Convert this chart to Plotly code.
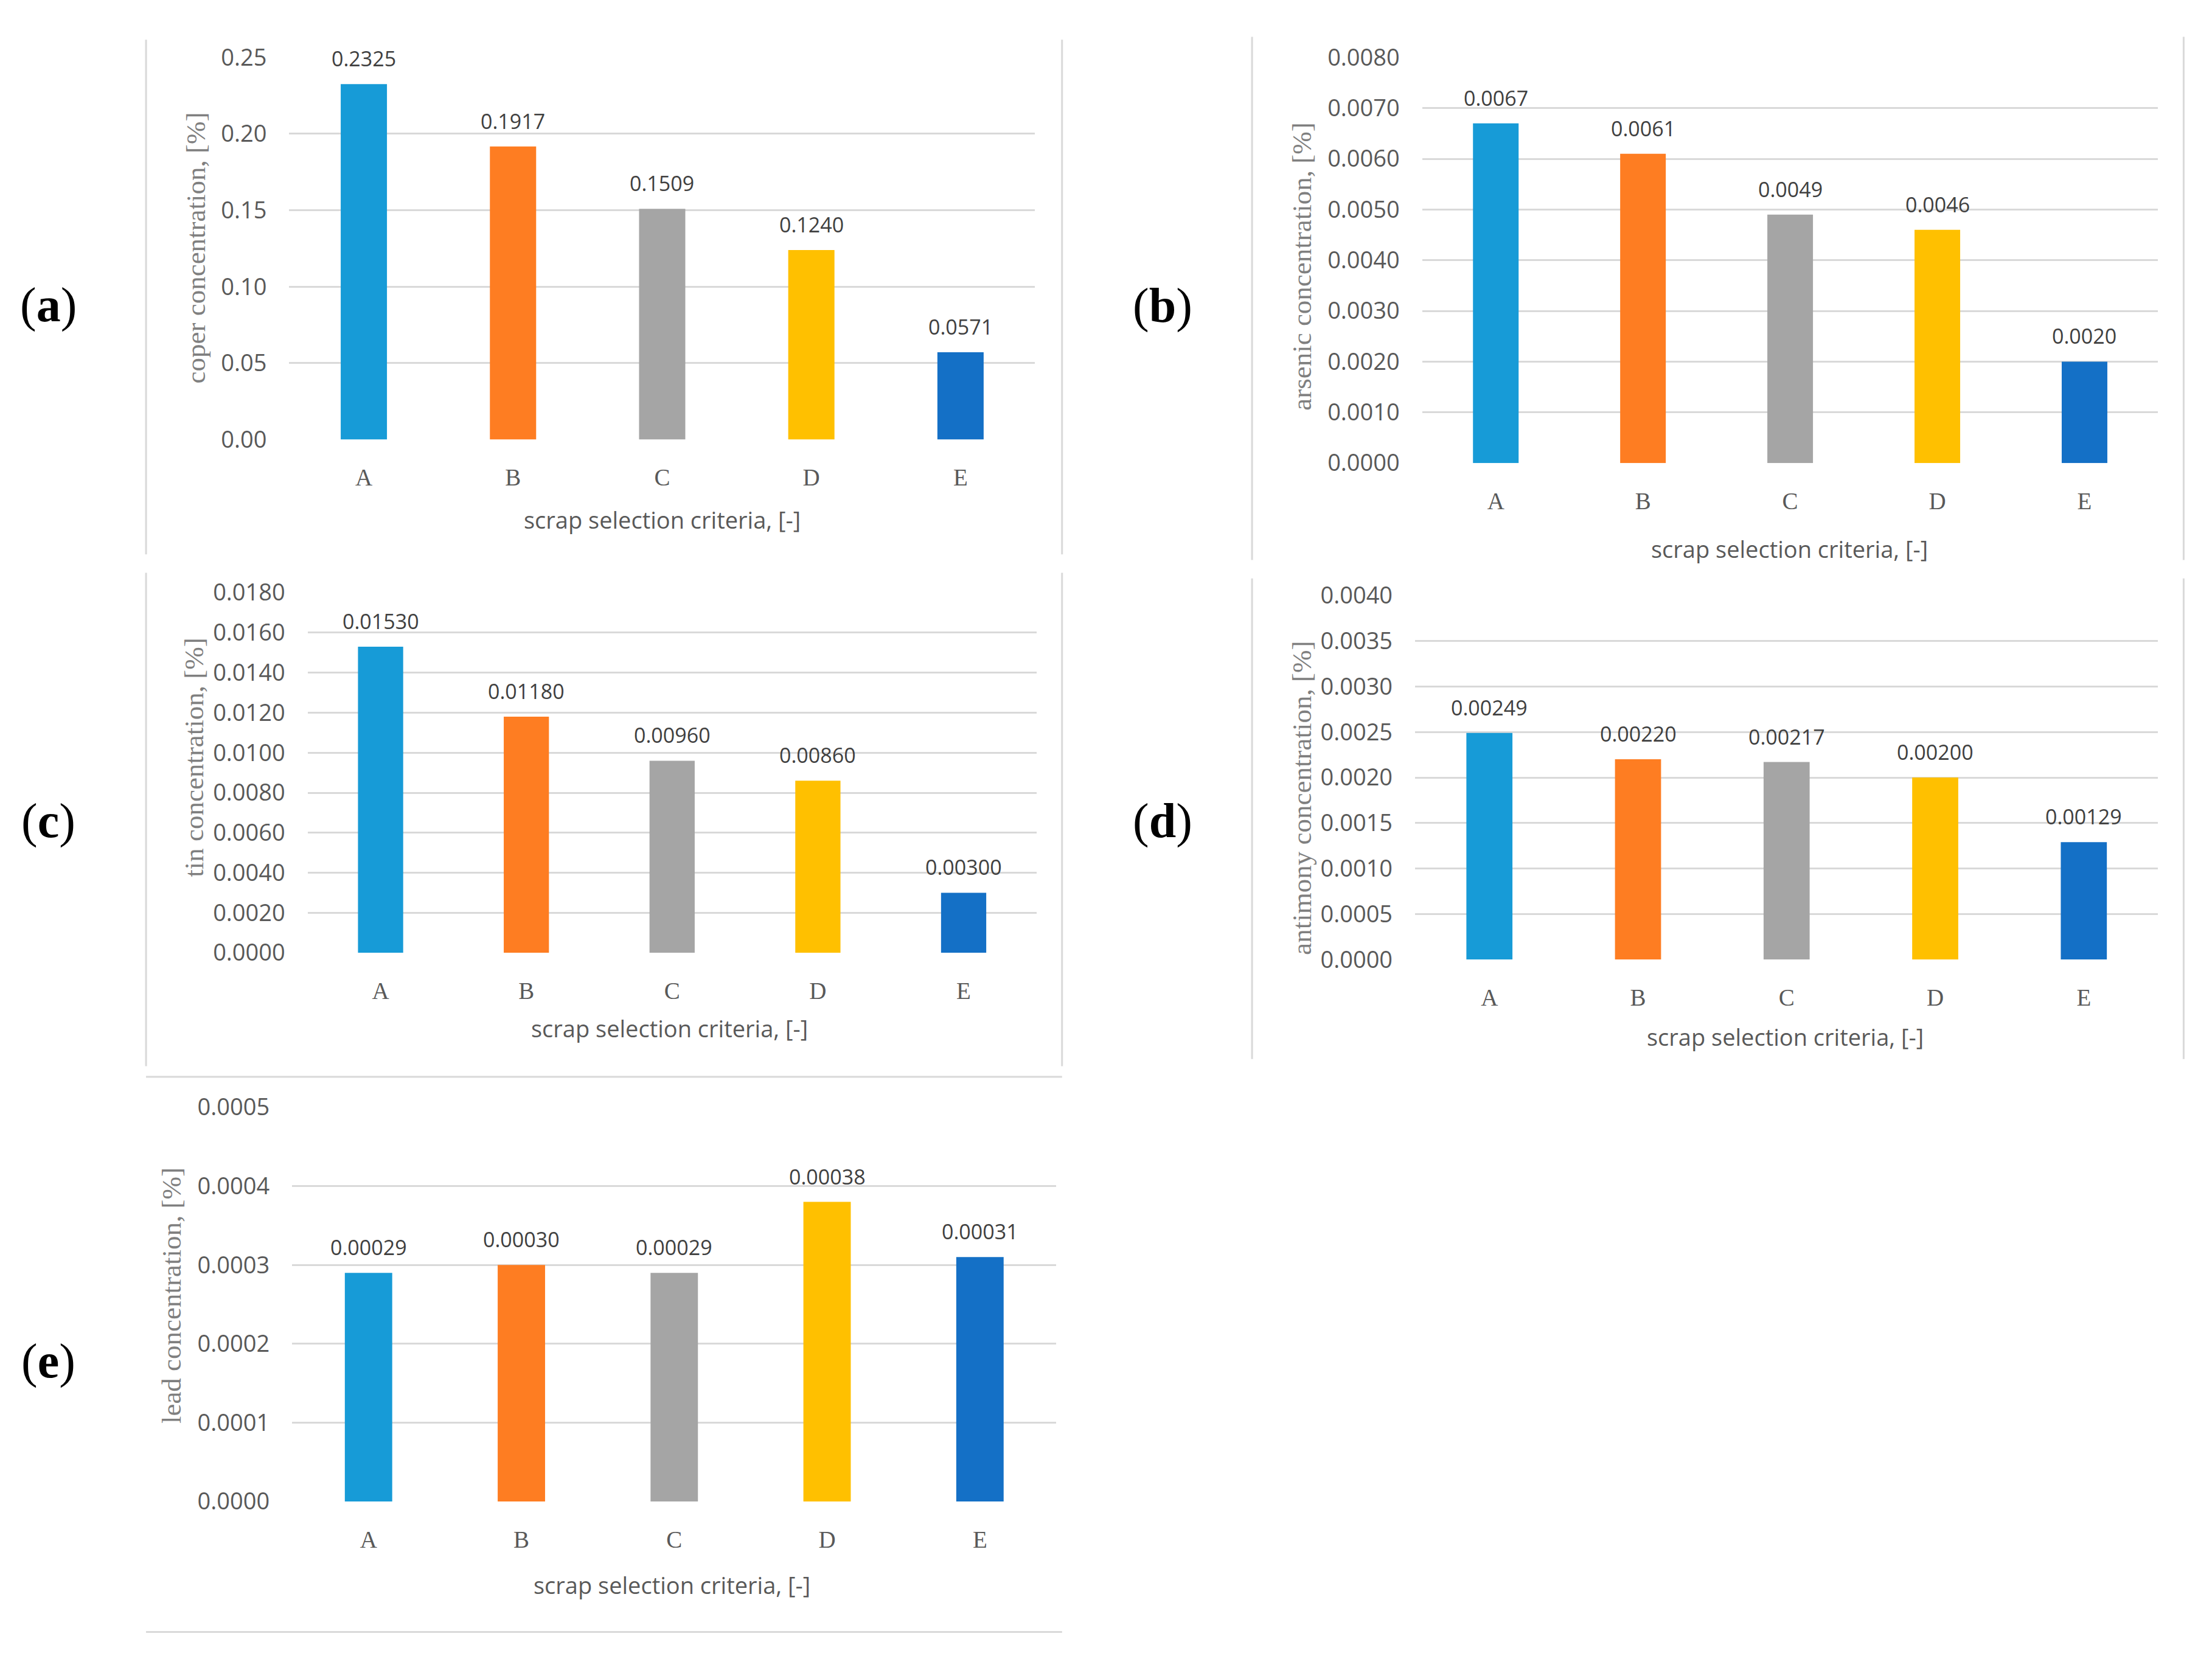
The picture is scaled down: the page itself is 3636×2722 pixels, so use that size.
import plotly.graph_objects as go

# ---------------- data ----------------
categories = ["A", "B", "C", "D", "E"]
copper = [0.2325, 0.1917, 0.1509, 0.1240, 0.0571]
arsenic = [0.0067, 0.0061, 0.0049, 0.0046, 0.0020]
tin = [0.01530, 0.01180, 0.00960, 0.00860, 0.00300]
antimony = [0.00249, 0.00220, 0.00217, 0.00200, 0.00129]
lead = [0.00029, 0.00030, 0.00029, 0.00038, 0.00031]

copper_ticks = [0.00, 0.05, 0.10, 0.15, 0.20, 0.25]
arsenic_ticks = [0.0000, 0.0010, 0.0020, 0.0030, 0.0040, 0.0050, 0.0060, 0.0070, 0.0080]
tin_ticks = [0.0000, 0.0020, 0.0040, 0.0060, 0.0080, 0.0100, 0.0120, 0.0140, 0.0160, 0.0180]
antimony_ticks = [0.0000, 0.0005, 0.0010, 0.0015, 0.0020, 0.0025, 0.0030, 0.0035, 0.0040]
lead_ticks = [0.0000, 0.0001, 0.0002, 0.0003, 0.0004, 0.0005]

y_titles = ["coper concentration, [%]", "arsenic concentration, [%]",
            "tin concentration, [%]", "antimony concentration, [%]",
            "lead concentration, [%]"]
x_title = "scrap selection criteria, [-]"
panel_labels = ["a", "b", "c", "d", "e"]

# ---------------- style ----------------
bar_colors = ["#179BD7", "#FE7D22", "#A5A5A5", "#FFC000", "#1470C6"]
SANS = "Open Sans, Noto Sans, Liberation Sans, sans-serif"
SERIF = "Liberation Serif, DejaVu Serif, serif"
GRID = "#D9D9D9"
FRAME = "#D9D9D9"

W_REF, H_REF = 1560.0, 1168.0
def fx(x):
    return x / W_REF
def fy(y):
    return 1 - y / H_REF

# layout per panel (reference-frame pixel coordinates)
panels = [
    dict(vals=copper, ticks=copper_ticks, tfmt=".2f", lfmt="{:.4f}",
         x0=204, x1=730, ybot=310, ytop=40.5,
         ytx=138, yty=175, xtx=467, xty=366.6, lx=34, ly=215),
    dict(vals=arsenic, ticks=arsenic_ticks, tfmt=".4f", lfmt="{:.4f}",
         x0=1003, x1=1522, ybot=326.6, ytop=40.5,
         ytx=918, yty=188, xtx=1262, xty=387, lx=820, ly=215.8),
    dict(vals=tin, ticks=tin_ticks, tfmt=".4f", lfmt="{:.5f}",
         x0=217, x1=731, ybot=672, ytop=418,
         ytx=137, yty=534, xtx=472, xty=725, lx=34, ly=579),
    dict(vals=antimony, ticks=antimony_ticks, tfmt=".4f", lfmt="{:.5f}",
         x0=998, x1=1522, ybot=676.8, ytop=420,
         ytx=918, yty=563, xtx=1259, xty=731, lx=820, ly=579),
    dict(vals=lead, ticks=lead_ticks, tfmt=".4f", lfmt="{:.5f}",
         x0=206, x1=745, ybot=1059, ytop=781,
         ytx=121, yty=914, xtx=474, xty=1118, lx=34, ly=960),
]

fig = go.Figure()
annotations = []
layout_axes = {}

for i, p in enumerate(panels, start=1):
    xa = "x" if i == 1 else f"x{i}"
    ya = "y" if i == 1 else f"y{i}"
    fig.add_trace(go.Bar(
        x=categories, y=p["vals"], marker=dict(color=bar_colors, line=dict(width=0)),
        width=0.31, xaxis=xa, yaxis=ya, showlegend=False, hoverinfo="skip"))
    layout_axes[f"xaxis{'' if i == 1 else i}"] = dict(
        domain=[fx(p["x0"]), fx(p["x1"])], anchor=ya, type="category",
        showgrid=False, zeroline=False, showline=False, ticks="",
        ticklabelstandoff=36, automargin=False,
        tickfont=dict(family=SERIF, size=39, color="#595959"))
    ymax = p["ticks"][-1]
    layout_axes[f"yaxis{'' if i == 1 else i}"] = dict(
        domain=[fy(p["ybot"]), fy(p["ytop"])], anchor=xa,
        range=[0, ymax], tickvals=p["ticks"], tickformat=p["tfmt"],
        showgrid=True, gridcolor=GRID, gridwidth=3, zeroline=False,
        showline=False, ticks="", ticklabelstandoff=36, automargin=False,
        tickfont=dict(family=SANS, size=38, color="#595959"))
    # value labels above bars
    for c, v in zip(categories, p["vals"]):
        annotations.append(dict(
            x=c, y=v, xref=xa, yref=ya, text=p["lfmt"].format(v),
            showarrow=False, xanchor="center", yanchor="middle", yshift=42,
            font=dict(family=SANS, size=34, color="#404040")))
    # y-axis title
    annotations.append(dict(
        x=fx(p["ytx"]), y=fy(p["yty"]), xref="paper", yref="paper",
        text=y_titles[i - 1], textangle=-90, showarrow=False,
        xanchor="center", yanchor="middle",
        font=dict(family=SERIF, size=45, color="#7F7F7F")))
    # x-axis title
    annotations.append(dict(
        x=fx(p["xtx"]), y=fy(p["xty"]), xref="paper", yref="paper",
        text=x_title, showarrow=False, xanchor="center", yanchor="middle",
        font=dict(family=SANS, size=38, color="#595959")))
    # panel label
    annotations.append(dict(
        x=fx(p["lx"]), y=fy(p["ly"]), xref="paper", yref="paper",
        text=f"(<b>{panel_labels[i - 1]}</b>)", showarrow=False,
        xanchor="center", yanchor="middle",
        font=dict(family=SERIF, size=80, color="#000000")))

# light chart-frame fragments visible around the panels
frame_lines = [
    (103, 28, 103, 391), (749, 28, 749, 391),      # (a)
    (883, 26, 883, 395), (1540, 26, 1540, 395),    # (b)
    (103, 404, 103, 752), (749, 404, 749, 752),    # (c)
    (883, 408, 883, 747), (1540, 408, 1540, 747),  # (d)
    (103, 759.5, 749, 759.5), (103, 1151, 749, 1151),  # (c)/(e) horizontal
]
shapes = [dict(type="line", xref="paper", yref="paper",
               x0=fx(a), y0=fy(b), x1=fx(c), y1=fy(d),
               line=dict(color=FRAME, width=3)) for a, b, c, d in frame_lines]

fig.update_layout(
    width=3636, height=2722,
    margin=dict(l=0, r=0, t=0, b=0, autoexpand=False),
    paper_bgcolor="white", plot_bgcolor="white",
    annotations=annotations, shapes=shapes,
    bargap=0.7,
    **layout_axes)

fig.write_html(
    "out.html",
    config={"displayModeBar": False, "staticPlot": True},
    post_script="document.body.style.margin='0px';document.body.style.padding='0px';",
)
